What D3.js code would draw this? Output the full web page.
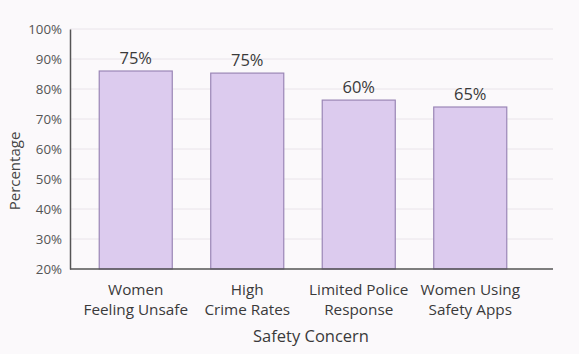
<!DOCTYPE html>
<html>
<head>
<meta charset="utf-8">
<script src="https://cdn.jsdelivr.net/npm/d3@7"></script>
<style>
  body { margin: 0; background: #fbf9fb; }
  svg { display: block; font-family: "Open Sans", sans-serif; }
</style>
</head>
<body>
<div id="chart"></div>
<script>
// chart data
var categories = [["Women", "Feeling Unsafe"], ["High", "Crime Rates"], ["Limited Police", "Response"], ["Women Using", "Safety Apps"]];
var barValues = [86, 85.3, 76.3, 74];
var barLabels = ["75%", "75%", "60%", "65%"];
var yTicks = [20, 30, 40, 50, 60, 70, 80, 90, 100];

var width = 579, height = 354;
var plot = { left: 70, right: 553, top: 29, bottom: 269 };

var svg = d3.select("#chart").append("svg").attr("width", width).attr("height", height);

var x = d3.scaleBand().domain(d3.range(categories.length)).range([80, 526]).paddingInner(0.345).paddingOuter(0.1725);
var y = d3.scaleLinear().domain([20, 100]).range([plot.bottom, plot.top]);

// gridlines
svg.append("g").selectAll("line").data(yTicks.slice(1)).enter().append("line")
    .attr("x1", plot.left).attr("x2", plot.right)
    .attr("y1", function (d) { return y(d); }).attr("y2", function (d) { return y(d); })
    .attr("stroke", "#e9e4ea").attr("stroke-width", 1);

// y axis
var yAxis = svg.append("g").attr("transform", "translate(" + plot.left + ",0)")
    .call(d3.axisLeft(y).tickValues(yTicks).tickSize(0).tickPadding(8).tickFormat(function (d) { return d + "%"; }));
yAxis.select(".domain").attr("stroke", "#555").attr("stroke-width", 1.5);
yAxis.selectAll("text").attr("fill", "#555").style("font-size", "13.3px").style("font-family", "'Open Sans', sans-serif");

// bars
svg.selectAll(".bar").data(barValues).enter().append("rect").attr("class", "bar")
    .attr("x", function (d, i) { return x(i); })
    .attr("y", function (d) { return y(d); })
    .attr("width", x.bandwidth())
    .attr("height", function (d) { return y(20) - y(d); })
    .attr("fill", "#dccbee").attr("stroke", "#9a86b6").attr("stroke-width", 1.2);

// value labels
svg.selectAll(".vlabel").data(barValues).enter().append("text").attr("class", "vlabel")
    .attr("x", function (d, i) { return x(i) + x.bandwidth() / 2; })
    .attr("y", function (d) { return y(d) - 7; })
    .attr("text-anchor", "middle").attr("fill", "#3a3a3a").style("font-size", "16.5px")
    .text(function (d, i) { return barLabels[i]; });

// baseline
svg.append("line").attr("x1", plot.left).attr("x2", plot.right).attr("y1", plot.bottom).attr("y2", plot.bottom)
    .attr("stroke", "#555").attr("stroke-width", 1.5);

// category labels
var cat = svg.selectAll(".cat").data(categories).enter().append("text").attr("class", "cat")
    .attr("text-anchor", "middle").attr("fill", "#3a3a3a").style("font-size", "15.3px")
    .attr("transform", function (d, i) { return "translate(" + (x(i) + x.bandwidth() / 2) + ",295)"; });
cat.selectAll("tspan").data(function (d) { return d; }).enter().append("tspan")
    .attr("x", 0).attr("dy", function (d, i) { return i === 0 ? 0 : 19.5; })
    .text(function (d) { return d; });

// axis titles
svg.append("text").attr("x", 311).attr("y", 342).attr("text-anchor", "middle")
    .attr("fill", "#3a3a3a").style("font-size", "16.5px").text("Safety Concern");
svg.append("text").attr("transform", "translate(20,171) rotate(-90)").attr("text-anchor", "middle")
    .attr("fill", "#444").style("font-size", "15px").text("Percentage");
</script>
</body>
</html>
